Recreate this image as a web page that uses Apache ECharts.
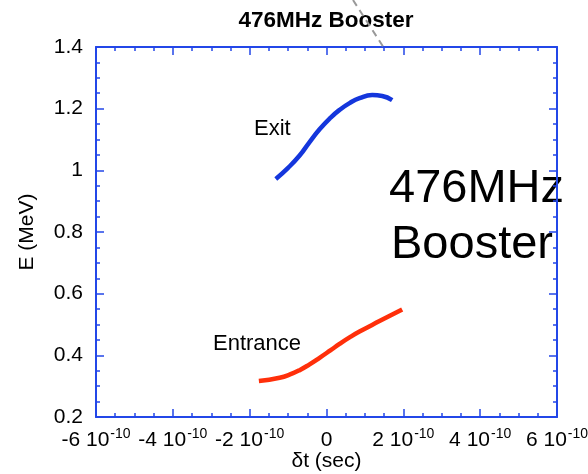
<!DOCTYPE html>
<html>
<head>
<meta charset="utf-8">
<script src="https://cdn.jsdelivr.net/npm/echarts@6/dist/echarts.min.js"></script>
<style>html,body{margin:0;padding:0;background:#fff;}#c{width:588px;height:474px;}</style>
</head>
<body>
<div id="c"></div>
<script>
// Data (x in seconds, y in MeV)
const exitX = [-1.32e-10, -1.0e-10, -0.70e-10, -0.45e-10, -0.18e-10, 0.10e-10, 0.34e-10, 0.60e-10, 0.86e-10, 1.19e-10, 1.45e-10, 1.71e-10];
const exitE = [0.972, 1.008, 1.048, 1.090, 1.133, 1.170, 1.196, 1.218, 1.234, 1.244, 1.241, 1.228];
const entX = [-1.76e-10, -1.22e-10, -0.95e-10, -0.70e-10, -0.45e-10, -0.18e-10, 0.10e-10, 0.34e-10, 0.60e-10, 0.86e-10, 1.38e-10, 1.97e-10];
const entE = [0.3165, 0.3275, 0.338, 0.352, 0.370, 0.392, 0.416, 0.437, 0.458, 0.477, 0.511, 0.549];
const xTickMantissas = [-6, -4, -2, 0, 2, 4, 6];
const yTicks = [0.2, 0.4, 0.6, 0.8, 1, 1.2, 1.4];
const titleText = '476MHz Booster';
const xName = 'δt (sec)';
const yName = 'E (MeV)';

const axisColor = '#2347e8';
const FONT = 'Liberation Sans, Arial, sans-serif';

function xFmt(v) {
  const m = Math.round(v / 1e-10);
  if (m === 0) return '{a|0}';
  return '{a|' + m + ' 10}{s|-10}';
}

const chart = echarts.init(document.getElementById('c'), null, {renderer: 'canvas'});
const tickCommon = {
  axisLine: {show: true, onZero: false, lineStyle: {color: axisColor, width: 2}},
  axisTick: {show: true, inside: true, length: 8, lineStyle: {color: axisColor, width: 1.5}},
  minorTick: {show: true, splitNumber: 4, length: 4, lineStyle: {color: axisColor, width: 1.5}},
  splitLine: {show: false}
};
chart.setOption({
  animation: false,
  backgroundColor: '#fff',
  grid: {left: 96, right: 31, top: 47, bottom: 57, containLabel: false, outerBoundsMode: 'none'},
  xAxis: [
    Object.assign({
      type: 'value', min: -6e-10, max: 6e-10, interval: 2e-10, position: 'bottom',
      name: xName, nameLocation: 'middle', nameGap: 34, nameMoveOverlap: false,
      nameTextStyle: {fontFamily: FONT, fontSize: 21, color: '#000'},
      axisLabel: {
        margin: 10, formatter: xFmt, hideOverlap: false,
        rich: {
          a: {fontFamily: FONT, fontSize: 21, color: '#000', lineHeight: 24, verticalAlign: 'bottom'},
          s: {fontFamily: FONT, fontSize: 14, color: '#000', lineHeight: 24, verticalAlign: 'top', padding: [0, 0, 0, 1]}
        }
      }
    }, tickCommon),
    Object.assign({
      type: 'value', min: -6e-10, max: 6e-10, interval: 2e-10, position: 'top',
      axisLabel: {show: false}
    }, tickCommon)
  ],
  yAxis: [
    Object.assign({
      type: 'value', min: 0.2, max: 1.4, interval: 0.2, position: 'left',
      name: yName, nameLocation: 'middle', nameGap: 58, nameRotate: 90, nameMoveOverlap: false,
      nameTextStyle: {fontFamily: FONT, fontSize: 21, color: '#000'},
      axisLabel: {margin: 13, fontFamily: FONT, fontSize: 21, color: '#000',
        formatter: function (v) { return String(+v.toFixed(1)); }}
    }, tickCommon),
    Object.assign({
      type: 'value', min: 0.2, max: 1.4, interval: 0.2, position: 'right',
      axisLabel: {show: false}
    }, tickCommon)
  ],
  series: [
    {type: 'line', name: 'Exit', smooth: true, showSymbol: false, symbol: 'none',
     data: exitX.map((x, i) => [x, exitE[i]]), lineStyle: {color: '#1436dc', width: 4.5}, z: 3},
    {type: 'line', name: 'Entrance', smooth: true, showSymbol: false, symbol: 'none',
     data: entX.map((x, i) => [x, entE[i]]), lineStyle: {color: '#ff2f0a', width: 4.5}, z: 3}
  ],
  graphic: [
    {type: 'text', x: 326, y: 21, z: 10,
     style: {text: titleText, font: 'bold 22.5px ' + FONT, fill: '#000', align: 'center', verticalAlign: 'middle'}},
    {type: 'text', x: 254, y: 129, z: 10,
     style: {text: 'Exit', font: '22px ' + FONT, fill: '#000', verticalAlign: 'middle'}},
    {type: 'text', x: 213, y: 344, z: 10,
     style: {text: 'Entrance', font: '22px ' + FONT, fill: '#000', verticalAlign: 'middle'}},
    {type: 'text', x: 389, y: 189, z: -1,
     style: {text: '476MHz', font: '47px ' + FONT, fill: '#000', verticalAlign: 'middle'}},
    {type: 'text', x: 391, y: 245, z: -1,
     style: {text: 'Booster', font: '47px ' + FONT, fill: '#000', verticalAlign: 'middle'}},
    {type: 'line', z: 20, shape: {x1: 353, y1: 0, x2: 384, y2: 48},
     style: {stroke: '#999', lineWidth: 2, lineDash: [7, 5]}}
  ]
});
</script>
</body>
</html>
